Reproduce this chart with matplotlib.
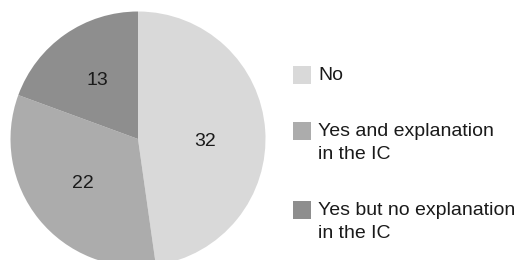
import matplotlib
matplotlib.use("Agg")
import matplotlib.pyplot as plt
from matplotlib.patches import Rectangle

labels = ["No", "Yes and explanation\nin the IC", "Yes but no explanation\nin the IC"]
values = [32, 22, 13]
colors = ["#d9d9d9", "#acacac", "#8e8e8e"]

plt.rcParams["font.family"] = ["Liberation Sans", "DejaVu Sans"]

W, H = 521, 260
fig = plt.figure(figsize=(W / 100, H / 100), dpi=100)

# pie axes: centre ~ (138, 139) px from top, radius ~127 px
cx, cy, r = 138, 139, 127.5
ax = fig.add_axes([(cx - r) / W, (H - cy - r) / H, 2 * r / W, 2 * r / H])
wedges, texts, autotexts = ax.pie(
    values, colors=colors, startangle=90, counterclock=False,
    autopct=lambda p: "%d" % round(p * sum(values) / 100), pctdistance=0.56,
    textprops=dict(fontsize=14, color="#1a1a1a"),
    wedgeprops=dict(linewidth=0))
# the "32" sits a little below the slice middle in the original
x0, y0 = autotexts[0].get_position()
autotexts[0].set_position((x0 - 0.03, y0 - 0.06))
ax.set_xlim(-1, 1)
ax.set_ylim(-1, 1)
ax.set_aspect("equal")
ax.axis("off")

# legend drawn by hand so the box sits next to the first line
entry_y = [75, 131, 210]
for lab, col, y in zip(labels, colors, entry_y):
    fig.patches.append(Rectangle((293 / W, (H - y - 9) / H), 18 / W, 18 / H,
                                 facecolor=col, edgecolor="none",
                                 transform=fig.transFigure))
    fig.text(318 / W, (H - y + 8) / H, lab, fontsize=14, color="#1a1a1a",
             va="top", ha="left", linespacing=1.45)

fig.savefig("out.png", dpi=100)
